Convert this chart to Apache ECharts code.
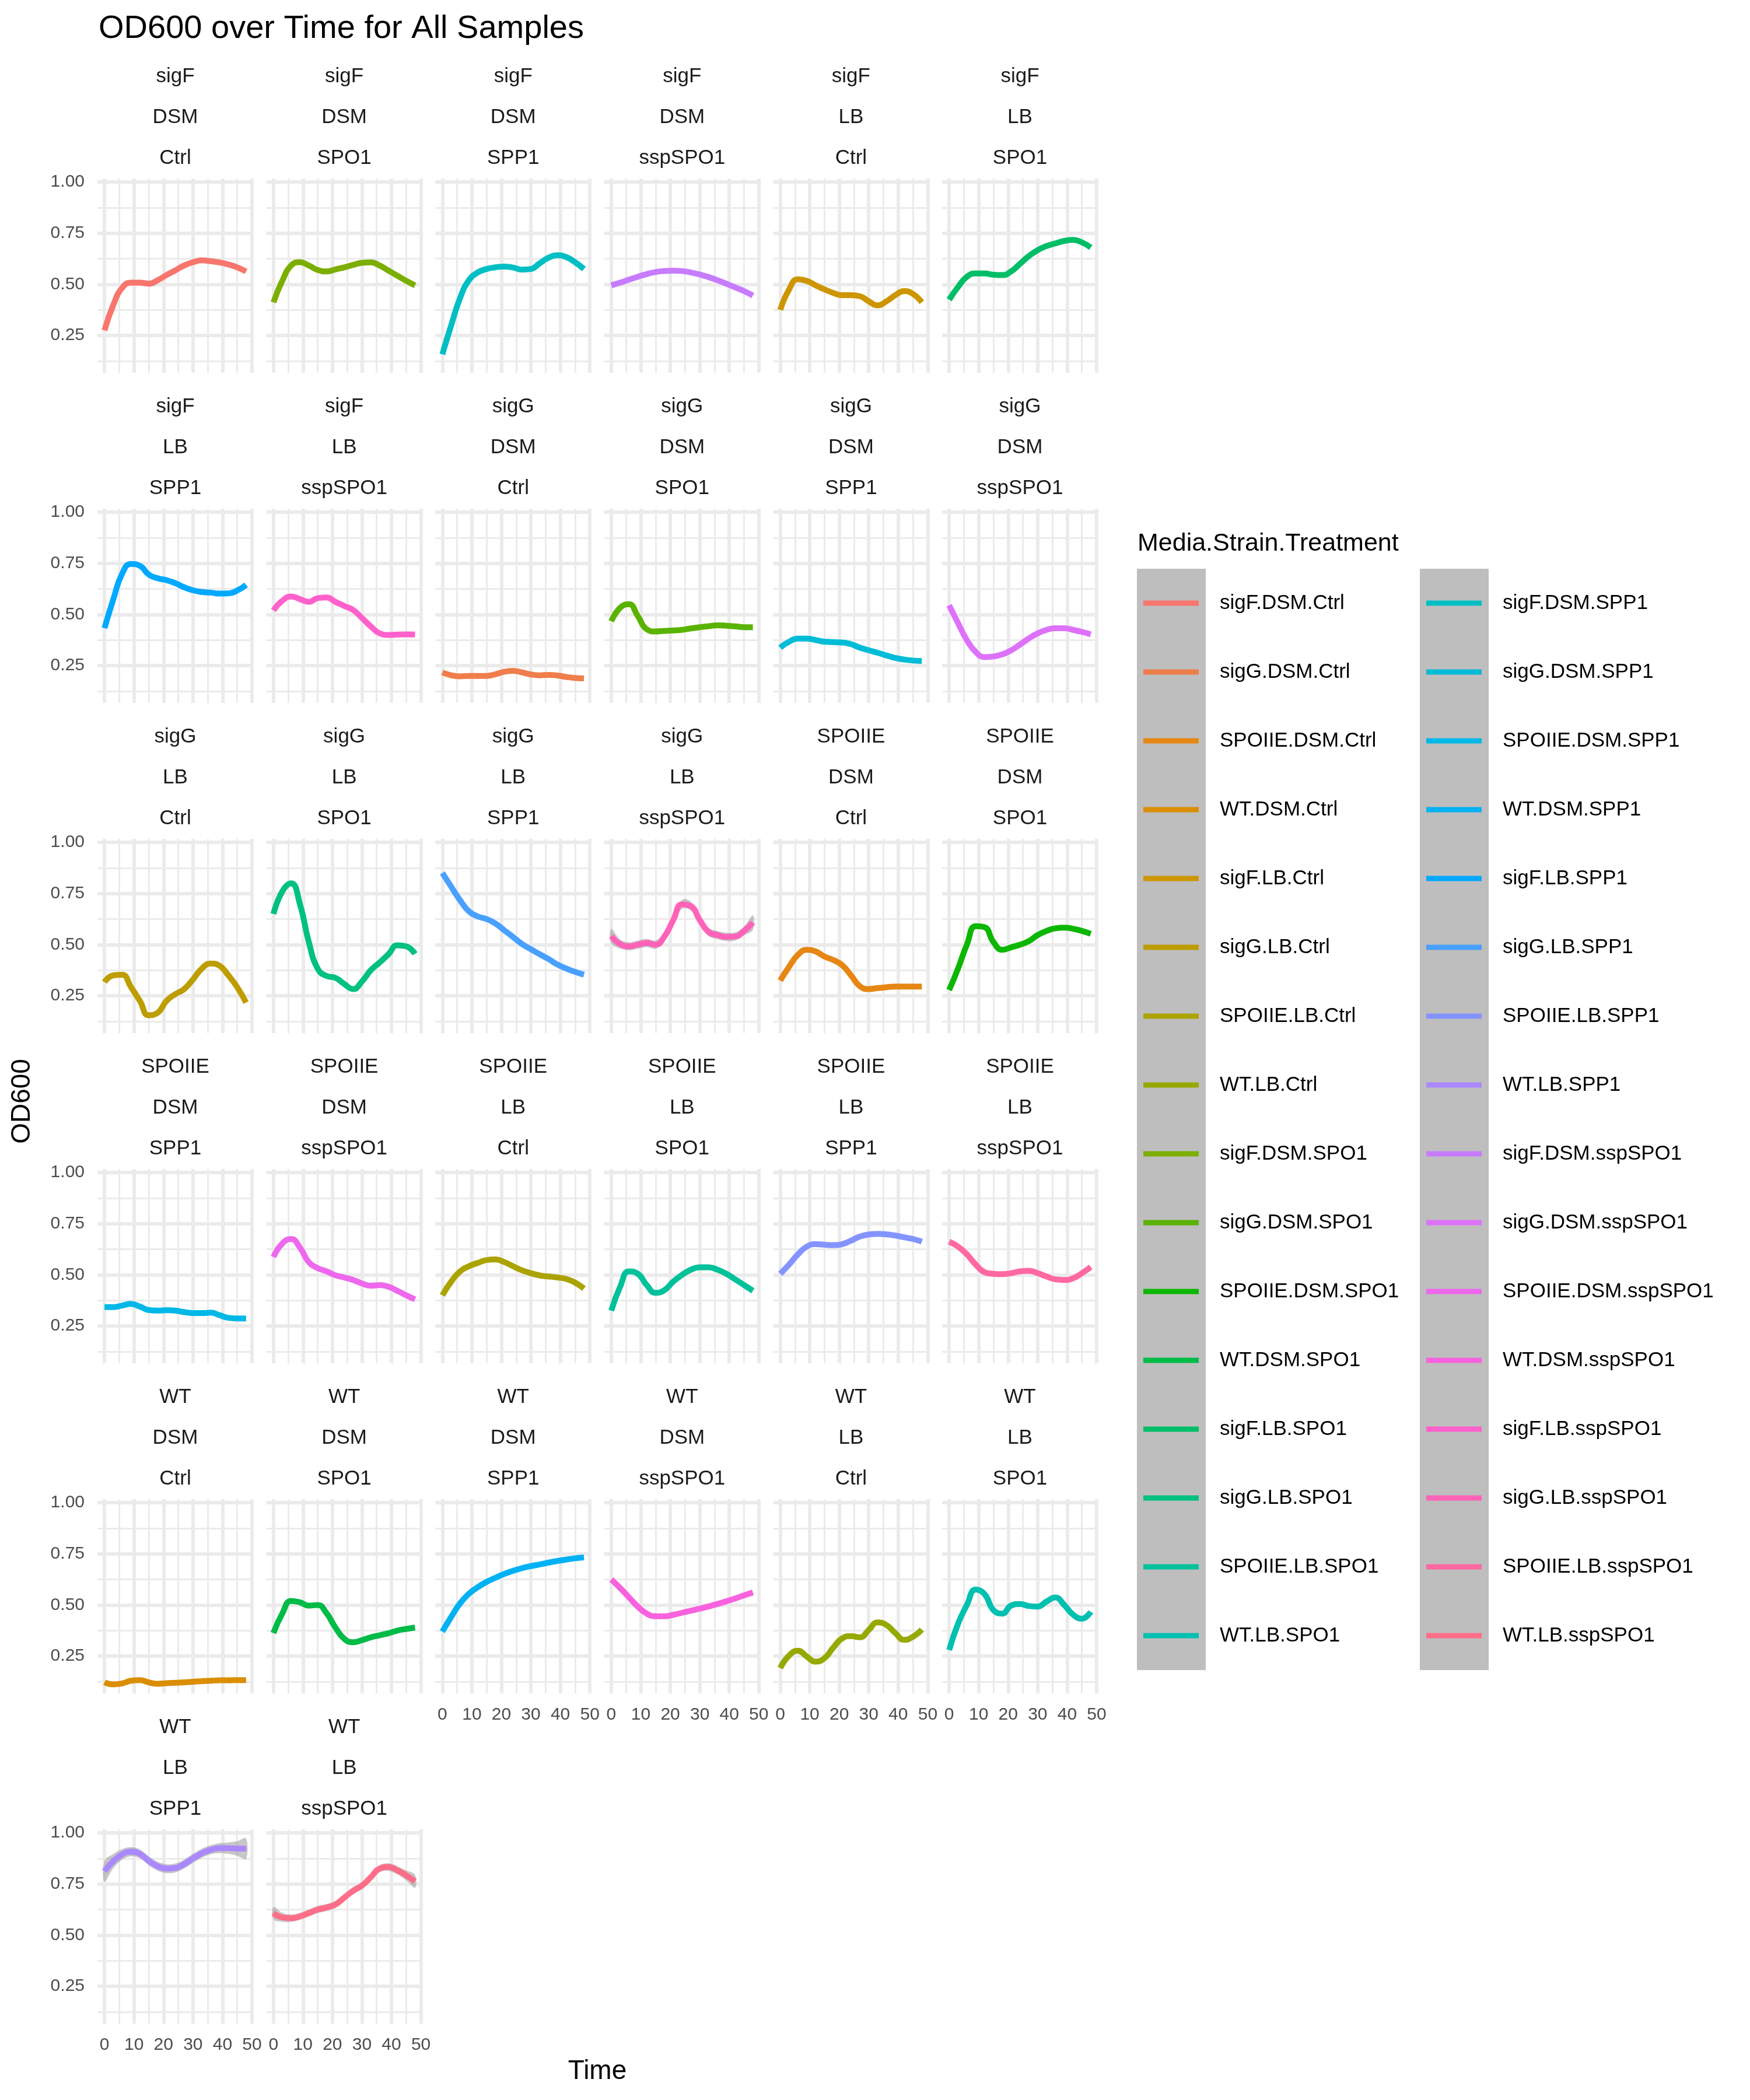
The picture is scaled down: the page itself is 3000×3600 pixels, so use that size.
<!DOCTYPE html>
<html>
<head>
<meta charset="utf-8">
<script src="https://cdn.jsdelivr.net/npm/echarts@6/dist/echarts.min.js"></script>
<style>
html,body{margin:0;padding:0;background:#ffffff;}
#chart{width:3000px;height:3600px;}
</style>
</head>
<body>
<div id="chart"></div>
<script>
// ---------------- DATA ----------------
const TIME = [0, 3, 6, 9, 12, 15, 18, 21, 24, 27, 30, 33, 36, 39, 42, 45, 48];
const STRAINS = ['sigF', 'sigG', 'SPOIIE', 'WT'];
const MEDIA = ['DSM', 'LB'];
const TREATMENTS = ['Ctrl', 'SPO1', 'SPP1', 'sspSPO1'];
const X_TICKS = [0, 10, 20, 30, 40, 50];
const X_MINOR = [5, 15, 25, 35, 45];
const Y_TICKS = [0.25, 0.5, 0.75, 1.0];
const Y_MINOR = [0.125, 0.375, 0.625, 0.875];

const sigF_DSM_Ctrl    = [0.275,0.40,0.483,0.508,0.508,0.503,0.52,0.545,0.568,0.592,0.608,0.617,0.613,0.607,0.597,0.583,0.563];
const sigF_DSM_SPO1    = [0.412,0.517,0.592,0.608,0.592,0.57,0.563,0.573,0.583,0.595,0.605,0.607,0.592,0.567,0.542,0.517,0.495];
const sigF_DSM_SPP1    = [0.158,0.30,0.433,0.52,0.558,0.575,0.583,0.587,0.582,0.572,0.575,0.603,0.63,0.642,0.633,0.608,0.575];
const sigF_DSM_sspSPO1 = [0.495,0.508,0.523,0.537,0.55,0.56,0.565,0.567,0.565,0.558,0.548,0.535,0.52,0.503,0.485,0.467,0.445];
const sigF_LB_Ctrl     = [0.375,0.475,0.525,0.517,0.495,0.475,0.458,0.447,0.447,0.442,0.417,0.397,0.417,0.447,0.467,0.453,0.412];
const sigF_LB_SPO1     = [0.425,0.487,0.537,0.553,0.553,0.547,0.545,0.563,0.60,0.638,0.667,0.687,0.70,0.712,0.717,0.705,0.68];
const sigF_LB_SPP1     = [0.433,0.575,0.70,0.747,0.738,0.695,0.677,0.668,0.653,0.633,0.618,0.61,0.607,0.602,0.603,0.617,0.645];
const sigF_LB_sspSPO1  = [0.52,0.567,0.588,0.575,0.562,0.58,0.583,0.562,0.542,0.522,0.483,0.442,0.408,0.40,0.402,0.403,0.402];
const sigG_DSM_Ctrl    = [0.217,0.203,0.198,0.20,0.20,0.20,0.208,0.22,0.225,0.217,0.207,0.203,0.205,0.202,0.195,0.19,0.188];
const sigG_DSM_SPO1    = [0.467,0.533,0.55,0.492,0.428,0.417,0.42,0.422,0.425,0.432,0.438,0.443,0.447,0.445,0.442,0.438,0.438];
const sigG_DSM_SPP1    = [0.338,0.367,0.382,0.382,0.375,0.367,0.365,0.363,0.355,0.338,0.325,0.313,0.30,0.288,0.28,0.275,0.273];
const sigG_DSM_sspSPO1 = [0.545,0.458,0.375,0.317,0.292,0.295,0.305,0.325,0.353,0.383,0.408,0.425,0.433,0.433,0.425,0.415,0.403];
const sigG_LB_Ctrl     = [0.317,0.35,0.353,0.292,0.225,0.155,0.167,0.225,0.258,0.283,0.33,0.383,0.408,0.397,0.35,0.292,0.217];
const sigG_LB_SPO1     = [0.65,0.76,0.80,0.697,0.513,0.383,0.347,0.338,0.308,0.283,0.32,0.375,0.413,0.453,0.497,0.492,0.455];
const sigG_LB_SPP1     = [0.85,0.783,0.717,0.663,0.638,0.625,0.603,0.57,0.537,0.503,0.478,0.453,0.43,0.403,0.383,0.367,0.353];
const sigG_LB_sspSPO1  = [0.542,0.503,0.492,0.50,0.508,0.50,0.54,0.62,0.697,0.688,0.62,0.562,0.547,0.538,0.54,0.567,0.608];
const SPOIIE_DSM_Ctrl    = [0.325,0.392,0.45,0.475,0.467,0.442,0.425,0.40,0.35,0.297,0.283,0.288,0.292,0.295,0.295,0.295,0.295];
const SPOIIE_DSM_SPO1    = [0.278,0.383,0.50,0.59,0.585,0.513,0.475,0.487,0.50,0.517,0.547,0.567,0.58,0.583,0.578,0.567,0.553];
const SPOIIE_DSM_SPP1    = [0.342,0.342,0.35,0.358,0.345,0.328,0.325,0.327,0.325,0.318,0.313,0.313,0.315,0.303,0.29,0.287,0.287];
const SPOIIE_DSM_sspSPO1 = [0.587,0.653,0.675,0.633,0.562,0.533,0.517,0.498,0.487,0.475,0.458,0.447,0.45,0.442,0.422,0.40,0.38];
const SPOIIE_LB_Ctrl     = [0.40,0.467,0.517,0.542,0.558,0.572,0.575,0.562,0.542,0.522,0.508,0.497,0.492,0.487,0.48,0.462,0.433];
const SPOIIE_LB_SPO1     = [0.325,0.442,0.517,0.505,0.45,0.412,0.425,0.467,0.50,0.525,0.537,0.537,0.525,0.505,0.478,0.45,0.422];
const SPOIIE_LB_SPP1     = [0.505,0.55,0.60,0.638,0.65,0.647,0.645,0.65,0.667,0.687,0.697,0.70,0.698,0.692,0.683,0.675,0.662];
const SPOIIE_LB_sspSPO1  = [0.662,0.638,0.60,0.55,0.513,0.505,0.503,0.508,0.517,0.52,0.508,0.492,0.478,0.475,0.483,0.508,0.538];
const WT_DSM_Ctrl    = [0.122,0.112,0.117,0.13,0.133,0.122,0.115,0.118,0.12,0.122,0.125,0.128,0.13,0.132,0.132,0.133,0.133];
const WT_DSM_SPO1    = [0.363,0.458,0.52,0.513,0.497,0.50,0.46,0.39,0.335,0.318,0.328,0.342,0.352,0.362,0.375,0.383,0.39];
const WT_DSM_SPP1    = [0.37,0.442,0.508,0.555,0.587,0.613,0.633,0.652,0.667,0.68,0.69,0.698,0.707,0.715,0.722,0.728,0.733];
const WT_DSM_sspSPO1 = [0.625,0.583,0.537,0.492,0.458,0.445,0.445,0.452,0.462,0.472,0.482,0.493,0.505,0.518,0.532,0.547,0.562];
const WT_LB_Ctrl     = [0.192,0.253,0.277,0.248,0.223,0.24,0.292,0.337,0.348,0.342,0.378,0.415,0.402,0.363,0.33,0.345,0.38];
const WT_LB_SPO1     = [0.28,0.408,0.50,0.575,0.553,0.475,0.458,0.497,0.505,0.495,0.492,0.517,0.537,0.50,0.453,0.433,0.467];
const WT_LB_SPP1     = [0.812,0.862,0.895,0.908,0.897,0.863,0.837,0.825,0.828,0.847,0.875,0.90,0.917,0.925,0.925,0.923,0.923];
const WT_LB_sspSPO1  = [0.608,0.587,0.583,0.592,0.608,0.625,0.635,0.65,0.683,0.717,0.742,0.783,0.825,0.833,0.817,0.792,0.763];

// confidence-band half widths (standard-error ribbon) where visible
const WT_LB_SPP1_SE      = [0.05,0.035,0.026,0.022,0.022,0.022,0.022,0.022,0.022,0.022,0.022,0.022,0.022,0.024,0.028,0.036,0.05];
const WT_LB_sspSPO1_SE   = [0.03,0.022,0.018,0.017,0.017,0.017,0.017,0.017,0.017,0.017,0.017,0.017,0.017,0.018,0.02,0.024,0.032];
const sigG_LB_sspSPO1_SE = [0.035,0.022,0.02,0.02,0.02,0.02,0.02,0.02,0.022,0.022,0.02,0.02,0.02,0.02,0.02,0.022,0.035];

const SERIES_VALUES = {
  'sigF.DSM.Ctrl': sigF_DSM_Ctrl, 'sigF.DSM.SPO1': sigF_DSM_SPO1, 'sigF.DSM.SPP1': sigF_DSM_SPP1, 'sigF.DSM.sspSPO1': sigF_DSM_sspSPO1,
  'sigF.LB.Ctrl': sigF_LB_Ctrl, 'sigF.LB.SPO1': sigF_LB_SPO1, 'sigF.LB.SPP1': sigF_LB_SPP1, 'sigF.LB.sspSPO1': sigF_LB_sspSPO1,
  'sigG.DSM.Ctrl': sigG_DSM_Ctrl, 'sigG.DSM.SPO1': sigG_DSM_SPO1, 'sigG.DSM.SPP1': sigG_DSM_SPP1, 'sigG.DSM.sspSPO1': sigG_DSM_sspSPO1,
  'sigG.LB.Ctrl': sigG_LB_Ctrl, 'sigG.LB.SPO1': sigG_LB_SPO1, 'sigG.LB.SPP1': sigG_LB_SPP1, 'sigG.LB.sspSPO1': sigG_LB_sspSPO1,
  'SPOIIE.DSM.Ctrl': SPOIIE_DSM_Ctrl, 'SPOIIE.DSM.SPO1': SPOIIE_DSM_SPO1, 'SPOIIE.DSM.SPP1': SPOIIE_DSM_SPP1, 'SPOIIE.DSM.sspSPO1': SPOIIE_DSM_sspSPO1,
  'SPOIIE.LB.Ctrl': SPOIIE_LB_Ctrl, 'SPOIIE.LB.SPO1': SPOIIE_LB_SPO1, 'SPOIIE.LB.SPP1': SPOIIE_LB_SPP1, 'SPOIIE.LB.sspSPO1': SPOIIE_LB_sspSPO1,
  'WT.DSM.Ctrl': WT_DSM_Ctrl, 'WT.DSM.SPO1': WT_DSM_SPO1, 'WT.DSM.SPP1': WT_DSM_SPP1, 'WT.DSM.sspSPO1': WT_DSM_sspSPO1,
  'WT.LB.Ctrl': WT_LB_Ctrl, 'WT.LB.SPO1': WT_LB_SPO1, 'WT.LB.SPP1': WT_LB_SPP1, 'WT.LB.sspSPO1': WT_LB_sspSPO1
};
const SERIES_SE = {
  'WT.LB.SPP1': WT_LB_SPP1_SE, 'WT.LB.sspSPO1': WT_LB_sspSPO1_SE, 'sigG.LB.sspSPO1': sigG_LB_sspSPO1_SE
};

// ---------------- STYLE / LAYOUT ----------------
const FONT = '"Liberation Sans", Arial, Helvetica, sans-serif';
const PANEL_W = 267, PANEL_H = 333;
const COL_X0 = 167, COL_STEP = 289.6;
const ROW_Y0 = 306, ROW_STEP = 566;
const NCOL = 6;
const X_MIN = -2.4, X_MAX = 50.4;
const Y_MIN = 0.068, Y_MAX = 1.017;
const GRID_COLOR = '#EBEBEB';
const LINE_W = 10;

// ggplot2 default hue palette (hcl, c=100, l=65)
function hcl2hex(h, c, l) {
  const hr = h * Math.PI / 180;
  const U = c * Math.cos(hr), V = c * Math.sin(hr);
  const WY = 100, Wu = 0.1978398, Wv = 0.4683363;
  const Y = WY * (l > 7.999592 ? Math.pow((l + 16) / 116, 3) : l / 903.3);
  const u = U / (13 * l) + Wu;
  const v = V / (13 * l) + Wv;
  const X = 9 * Y * u / (4 * v);
  const Z = -X / 3 - 5 * Y + 3 * Y / v;
  const g = x => x > 0.00304 ? 1.055 * Math.pow(x, 1 / 2.4) - 0.055 : 12.92 * x;
  const rgb = [
    g((3.240479 * X - 1.537150 * Y - 0.498535 * Z) / WY),
    g((-0.969256 * X + 1.875992 * Y + 0.041556 * Z) / WY),
    g((0.055648 * X - 0.204043 * Y + 1.057311 * Z) / WY)
  ].map(x => Math.round(Math.max(0, Math.min(1, x)) * 255));
  return '#' + rgb.map(x => x.toString(16).padStart(2, '0')).join('');
}

// legend / colour order: treatment, media, strain
const LEGEND_ORDER = [];
TREATMENTS.forEach(t => MEDIA.forEach(m => STRAINS.forEach(s => LEGEND_ORDER.push(s + '.' + m + '.' + t))));
const N = LEGEND_ORDER.length;
const COLORS = {};
LEGEND_ORDER.forEach((name, i) => { COLORS[name] = hcl2hex(15 + i * 360 / N, 100, 65); });

// facet order: strain, media, treatment
const FACETS = [];
STRAINS.forEach(s => MEDIA.forEach(m => TREATMENTS.forEach(t => FACETS.push({ s, m, t, name: s + '.' + m + '.' + t }))));

// ribbon renderer: draws the whole band once (at data index 0) from [t, lo, hi] rows
function renderBand(params, api) {
  if (params.dataIndex !== 0) return null;
  const n = params.dataInsideLength;
  const upper = [], lower = [];
  for (let i = 0; i < n; i++) {
    upper.push(api.coord([api.value(0, i), api.value(2, i)]));
    lower.push(api.coord([api.value(0, i), api.value(1, i)]));
  }
  const pts = upper.concat(lower.reverse());
  return {
    type: 'polygon',
    shape: { points: pts, smooth: 0.35 },
    style: { fill: 'rgba(153,153,153,0.55)', stroke: null },
    silent: true
  };
}

const grids = [], xAxes = [], yAxes = [], series = [], graphics = [];
const nF = FACETS.length;

FACETS.forEach((f, k) => {
  const col = k % NCOL, row = Math.floor(k / NCOL);
  const left = COL_X0 + col * COL_STEP, top = ROW_Y0 + row * ROW_STEP;
  const isBottom = (k + NCOL) >= nF;
  const isLeft = col === 0;
  grids.push({ left: left, top: top, width: PANEL_W, height: PANEL_H, outerBoundsMode: 'none', containLabel: false });

  // minor x, major x
  xAxes.push({
    type: 'value', gridIndex: k, min: X_MIN, max: X_MAX, position: 'top',
    axisLine: { show: false }, axisTick: { show: false, customValues: X_MINOR },
    axisLabel: { show: false, customValues: X_MINOR },
    splitLine: { show: true, lineStyle: { color: GRID_COLOR, width: 3 } }
  });
  xAxes.push({
    type: 'value', gridIndex: k, min: X_MIN, max: X_MAX, position: 'bottom',
    axisLine: { show: false }, axisTick: { show: false, customValues: X_TICKS },
    axisLabel: { show: isBottom, customValues: X_TICKS, fontSize: 30, color: '#4D4D4D', fontFamily: FONT, margin: 22 },
    splitLine: { show: true, lineStyle: { color: GRID_COLOR, width: 6 } }
  });
  yAxes.push({
    type: 'value', gridIndex: k, min: Y_MIN, max: Y_MAX, position: 'right',
    axisLine: { show: false }, axisTick: { show: false, customValues: Y_MINOR },
    axisLabel: { show: false, customValues: Y_MINOR },
    splitLine: { show: true, lineStyle: { color: GRID_COLOR, width: 3 } }
  });
  yAxes.push({
    type: 'value', gridIndex: k, min: Y_MIN, max: Y_MAX, position: 'left',
    axisLine: { show: false }, axisTick: { show: false, customValues: Y_TICKS },
    axisLabel: { show: isLeft, customValues: Y_TICKS, fontSize: 30, color: '#4D4D4D', fontFamily: FONT, margin: 22,
                 formatter: v => Number(v).toFixed(2) },
    splitLine: { show: true, lineStyle: { color: GRID_COLOR, width: 6 } }
  });

  const vals = SERIES_VALUES[f.name];
  const se = SERIES_SE[f.name];
  if (se) {
    series.push({
      type: 'custom', name: f.name + ' SE', xAxisIndex: 2 * k + 1, yAxisIndex: 2 * k + 1,
      z: 2, silent: true, clip: true,
      encode: { x: 0, y: [1, 2] },
      data: TIME.map((t, i) => [t, vals[i] - se[i], vals[i] + se[i]]),
      renderItem: renderBand
    });
  }
  series.push({
    type: 'line', name: f.name, xAxisIndex: 2 * k + 1, yAxisIndex: 2 * k + 1,
    data: TIME.map((t, i) => [t, vals[i]]),
    smooth: 0.5, showSymbol: false, z: 3,
    lineStyle: { width: LINE_W, color: COLORS[f.name], cap: 'butt' },
    itemStyle: { color: COLORS[f.name] },
    emphasis: { disabled: true }
  });

  // strip labels
  const cx = left + PANEL_W / 2;
  [[f.s, -175], [f.m, -105], [f.t, -35]].forEach(([txt, dy]) => {
    graphics.push({
      type: 'text', x: cx, y: top + dy, silent: true,
      style: { text: txt, fontSize: 35, fontFamily: FONT, fill: '#1A1A1A', align: 'center', verticalAlign: 'middle' }
    });
  });
});

// legend key backgrounds
[1949, 2434].forEach(x => graphics.push({
  type: 'rect', x: x, y: 975, z: 0, silent: true, shape: { width: 118, height: 1888 }, style: { fill: '#BEBEBE' }
}));
// legend title
graphics.push({ type: 'text', x: 1950, y: 932, silent: true,
  style: { text: 'Media.Strain.Treatment', fontSize: 43, fontFamily: FONT, fill: '#000', align: 'left', verticalAlign: 'middle' } });
// plot title
graphics.push({ type: 'text', x: 169, y: 50, silent: true,
  style: { text: 'OD600 over Time for All Samples', fontSize: 56, fontFamily: FONT, fill: '#000', align: 'left', verticalAlign: 'middle' } });
// axis titles
graphics.push({ type: 'text', x: 1024, y: 3551, silent: true,
  style: { text: 'Time', fontSize: 46, fontFamily: FONT, fill: '#000', align: 'center', verticalAlign: 'middle' } });
graphics.push({ type: 'text', x: 38, y: 1888, rotation: Math.PI / 2, silent: true,
  style: { text: 'OD600', fontSize: 46, fontFamily: FONT, fill: '#000', align: 'center', verticalAlign: 'middle' } });

const legends = [0, 1].map(j => ({
  data: LEGEND_ORDER.slice(j * 16, j * 16 + 16),
  orient: 'vertical', left: j ? 2445 : 1960, top: 1014, padding: 0,
  itemWidth: 95, itemHeight: 9, itemGap: 78, icon: 'rect', selectedMode: false,
  textStyle: { fontSize: 35, lineHeight: 40, color: '#000', fontFamily: FONT, padding: [0, 0, 0, 31] }
}));

const chart = echarts.init(document.getElementById('chart'), null, { renderer: 'canvas', width: 3000, height: 3600 });
chart.setOption({
  backgroundColor: '#ffffff',
  animation: false,
  grid: grids,
  xAxis: xAxes,
  yAxis: yAxes,
  legend: legends,
  series: series,
  graphic: { elements: graphics }
});
</script>
</body>
</html>
